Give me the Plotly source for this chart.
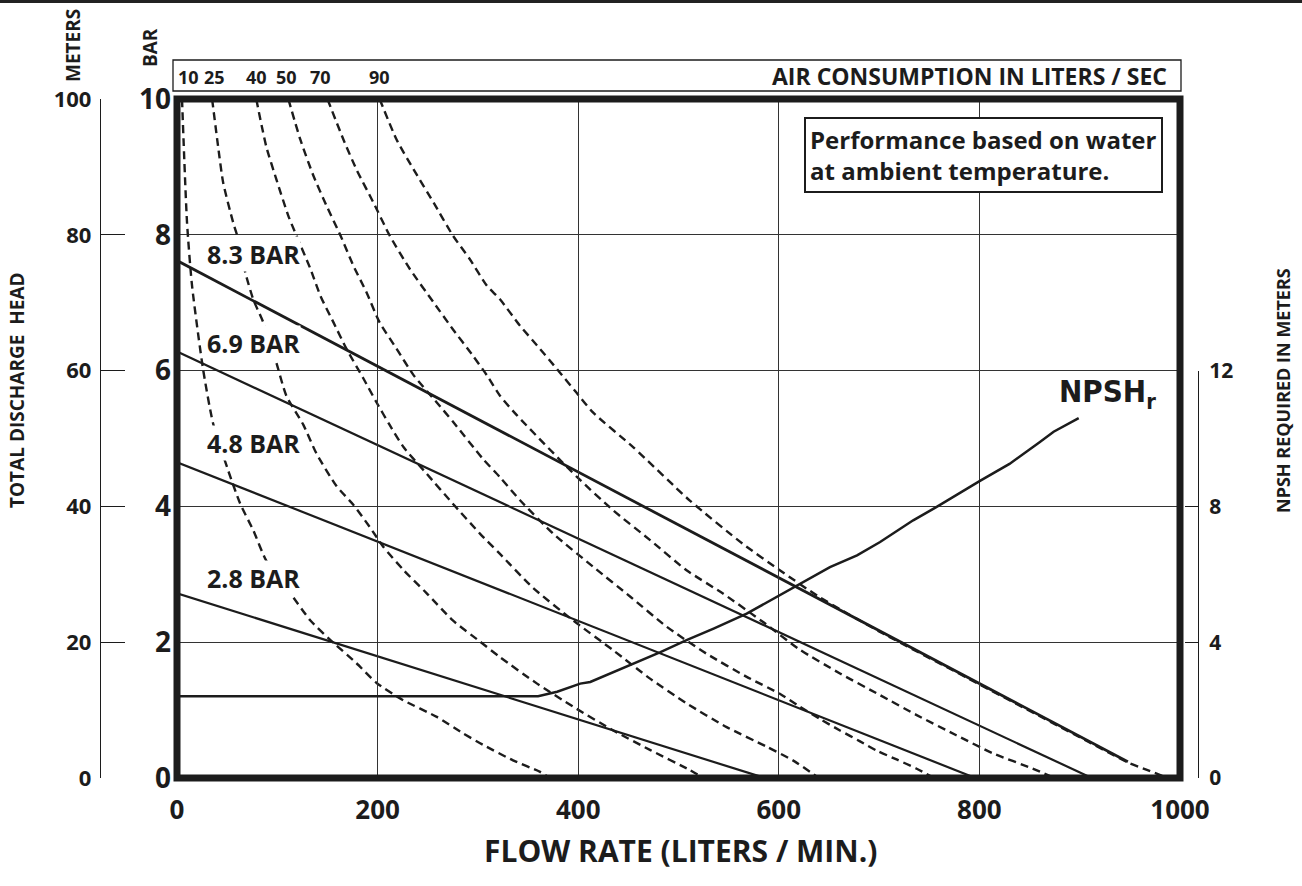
import plotly.graph_objects as go

# ---------------- DATA ----------------
# Flow rate axis (liters / min) and head axes
FLOW_TICKS = [0, 200, 400, 600, 800, 1000]
METER_TICKS = [0, 20, 40, 60, 80, 100]
BAR_TICKS = [0, 2, 4, 6, 8, 10]
NPSH_TICKS = [0, 4, 8, 12]

# Performance lines at air inlet pressure (flow l/min, head m)
PERF_LABELS = ["8.3 BAR", "6.9 BAR", "4.8 BAR", "2.8 BAR"]
PERF_83_X = [0, 948]
PERF_83_Y = [76.2, 2.4]
PERF_69_X = [0, 912]
PERF_69_Y = [62.8, 0]
PERF_48_X = [0, 796]
PERF_48_Y = [46.5, 0]
PERF_28_X = [0, 586]
PERF_28_Y = [27.2, 0]

# Air consumption curves (liters / sec)
AIR_LABELS = ["10", "25", "40", "50", "70", "90"]
AIR10_X = [5, 10, 15, 26, 36, 51, 63, 76, 89, 113, 133, 153, 179, 199, 225, 259, 285, 305, 335, 362, 372]
AIR10_Y = [100, 81.8, 72.5, 60.2, 52.2, 45.3, 40.4, 36.5, 32, 27.2, 23.2, 20.3, 16.9, 14, 11.5, 9, 6.6, 4.9, 2.6, 0.9, 0]
AIR25_X = [35, 41, 46, 56, 61, 68, 76, 86, 99, 109, 126, 139, 159, 176, 192, 206, 226, 249, 275, 302, 322, 359, 395, 435, 472, 511, 525]
AIR25_Y = [100, 93, 87.7, 81.8, 79.4, 74.5, 70.5, 67.1, 61.2, 56.3, 52, 47.8, 43, 40.2, 37, 34, 30.6, 27.2, 23.2, 20.1, 17.8, 13.9, 10.5, 7, 4.1, 1.2, 0]
AIR40_X = [79, 89, 99, 111, 119, 133, 143, 156, 169, 186, 199, 212, 226, 249, 275, 302, 322, 355, 395, 435, 472, 508, 548, 588, 614, 640]
AIR40_Y = [100, 93, 88.2, 82.8, 79.9, 75, 71, 67.1, 63.2, 58.8, 55.3, 52, 48.7, 44.8, 40.4, 36, 33, 28, 23.2, 18.8, 14.6, 11, 7.5, 4.6, 2.6, 0]
AIR50_X = [111, 123, 136, 149, 163, 176, 189, 202, 219, 236, 259, 275, 305, 322, 342, 375, 415, 452, 488, 528, 568, 601, 621, 641, 661, 681, 698, 718, 737, 755]
AIR50_Y = [100, 94, 88.7, 84.3, 79.9, 75.4, 71.5, 67.1, 63.2, 59.3, 55.3, 52.5, 47, 44.3, 40.9, 36, 31.1, 26.7, 22.3, 18.3, 14.9, 12.4, 10.5, 8.7, 7, 5.4, 4, 2.7, 1.4, 0]
AIR70_X = [150, 166, 179, 196, 212, 232, 256, 275, 295, 309, 322, 339, 399, 435, 472, 508, 544, 584, 621, 661, 701, 737, 777, 814, 853, 875]
AIR70_Y = [100, 94, 89.6, 84.7, 79.9, 75, 70, 66.1, 62.2, 59.3, 56.3, 53.4, 44.3, 39.4, 35, 30.6, 27.2, 23, 18.9, 15.4, 12.2, 9.3, 6.3, 3.6, 1.4, 0]
AIR90_X = [202, 219, 236, 256, 275, 292, 309, 322, 342, 359, 379, 398, 415, 455, 511, 564, 601, 641, 700, 800, 900, 948, 967, 988]
AIR90_Y = [100, 94, 89.6, 84.7, 79.9, 76.4, 72.5, 70.5, 66.6, 63.7, 60.2, 56.8, 53.8, 48.7, 40.9, 34.5, 30.6, 26.6, 21.6, 13.8, 6.0, 2.3, 1.2, 0]

# NPSH required (flow l/min, NPSH m)
NPSH_X = [0, 360, 379, 402, 412, 452, 482, 508, 535, 568, 601, 621, 651, 678, 701, 734, 757, 801, 830, 860, 874, 899]
NPSH_Y = [2.41, 2.41, 2.54, 2.78, 2.83, 3.32, 3.71, 4.06, 4.4, 4.84, 5.38, 5.73, 6.21, 6.56, 6.95, 7.59, 7.98, 8.76, 9.25, 9.89, 10.2, 10.6]

# ---------------- LAYOUT HELPERS ----------------
W, H = 1302, 886
PX_L, PX_R, PY_T, PY_B = 177, 1180, 99, 778


def fx(p):
    return p / W


def fy(p):
    return 1 - p / H


FONT = "Open Sans, Noto Sans, DejaVu Sans, sans-serif"
COND = "Liberation Sans Narrow, DejaVu Sans Condensed, Roboto Condensed, sans-serif"
INK = "#1c1c1c"
GRID = "#333333"

fig = go.Figure()

air_series = [(AIR10_X, AIR10_Y), (AIR25_X, AIR25_Y), (AIR40_X, AIR40_Y),
              (AIR50_X, AIR50_Y), (AIR70_X, AIR70_Y), (AIR90_X, AIR90_Y)]
for (xs, ys), lab in zip(air_series, AIR_LABELS):
    fig.add_trace(go.Scatter(x=xs, y=ys, mode="lines", name=lab + " l/s",
                             line=dict(color=INK, width=2.4, dash="8px,5px",
                                       shape="spline", smoothing=0.6),
                             xaxis="x", yaxis="y", hoverinfo="skip"))

perf_series = [(PERF_83_X, PERF_83_Y, 2.8), (PERF_69_X, PERF_69_Y, 2.2),
               (PERF_48_X, PERF_48_Y, 2.2), (PERF_28_X, PERF_28_Y, 2.2)]
for (xs, ys, w), lab in zip(perf_series, PERF_LABELS):
    fig.add_trace(go.Scatter(x=xs, y=ys, mode="lines", name=lab,
                             line=dict(color=INK, width=w),
                             xaxis="x", yaxis="y"))

fig.add_trace(go.Scatter(x=NPSH_X, y=NPSH_Y, mode="lines", name="NPSHr",
                         line=dict(color=INK, width=2.5),
                         xaxis="x", yaxis="y3"))

# invisible trace so the BAR scale axis is drawn
fig.add_trace(go.Scatter(x=[0], y=[0], mode="markers", marker=dict(opacity=0),
                         xaxis="x", yaxis="y2", hoverinfo="skip"))

tick_bold = dict(family=FONT, color=INK, weight="bold")

fig.update_layout(
    width=W, height=H, autosize=False,
    margin=dict(l=0, r=0, t=0, b=0, pad=0, autoexpand=False),
    paper_bgcolor="white", plot_bgcolor="rgba(0,0,0,0)",
    showlegend=False,
    xaxis=dict(domain=[fx(PX_L), fx(PX_R)], range=[0, 1000],
               tickvals=FLOW_TICKS, ticks="", showline=False, zeroline=False,
               showgrid=True, gridcolor=GRID, gridwidth=1.3,
               tickfont=dict(size=26, **tick_bold), ticklabelstandoff=14,
               anchor="y"),
    yaxis=dict(domain=[fy(PY_B), fy(PY_T)], range=[0, 100],
               anchor="free", position=fx(100), side="left",
               tickvals=METER_TICKS, ticks="inside", ticklen=24, tickwidth=1.3,
               tickcolor=INK, showline=True, linecolor=INK, linewidth=1.3,
               showgrid=True, gridcolor=GRID, gridwidth=1.3, zeroline=False,
               tickfont=dict(size=22, **tick_bold), ticklabelstandoff=4),
    yaxis2=dict(overlaying="y", range=[0, 10], anchor="free",
                position=fx(PX_L), side="left", tickvals=BAR_TICKS, ticks="",
                showline=False, showgrid=False, zeroline=False,
                tickfont=dict(size=28, **tick_bold), ticklabelstandoff=6),
    yaxis3=dict(domain=[fy(PY_B), fy(PY_B - 0.6 * (PY_B - PY_T))], range=[0, 12],
                anchor="free", position=fx(1198), side="right",
                tickvals=NPSH_TICKS, ticks="inside", ticklen=13, tickwidth=1.3,
                tickcolor=INK, showline=True, linecolor=INK, linewidth=1.3,
                showgrid=False, zeroline=False,
                tickfont=dict(size=21, **tick_bold), ticklabelstandoff=6),
)

shapes = [
    # plot frame
    dict(type="rect", xref="paper", yref="paper", x0=fx(PX_L), x1=fx(PX_R),
         y0=fy(PY_B), y1=fy(PY_T), line=dict(color=INK, width=7), layer="above"),
    # air consumption header box
    dict(type="rect", xref="paper", yref="paper", x0=fx(173), x1=fx(1181),
         y0=fy(91), y1=fy(60), line=dict(color=INK, width=1.3)),
    # top rule of the page
    dict(type="line", xref="paper", yref="paper", x0=0, x1=1, y0=1, y1=1,
         line=dict(color="#222", width=6)),
]
fig.update_layout(shapes=shapes)

ann = []
# performance line labels
PERF_LABEL_Y = [77.1, 64.1, 49.4, 29.4]
for lab, yv in zip(PERF_LABELS, PERF_LABEL_Y):
    ann.append(dict(text=lab, x=29, y=yv, xref="x", yref="y", xanchor="left",
                    yanchor="middle", showarrow=False, bgcolor="white",
                    borderpad=0, font=dict(size=25, **tick_bold)))
# air consumption labels in header
AIR_LABEL_X = [11, 37, 79, 109, 143, 202]
for lab, xv in zip(AIR_LABELS, AIR_LABEL_X):
    ann.append(dict(text=lab, x=xv, y=fy(77), xref="x", yref="paper",
                    xanchor="center", yanchor="middle", showarrow=False,
                    font=dict(size=18, **tick_bold)))
ann.append(dict(text="AIR CONSUMPTION IN LITERS / SEC", x=fx(1169), y=fy(76),
                xref="paper", yref="paper", xanchor="right", yanchor="middle",
                showarrow=False, font=dict(size=23, **tick_bold)))
ann.append(dict(text="Performance based on water<br>at ambient temperature.",
                x=fx(804), y=fy(117), xref="paper", yref="paper",
                xanchor="left", yanchor="top", align="left", showarrow=False,
                bgcolor="white", bordercolor=INK, borderwidth=2, borderpad=4,
                font=dict(size=24, **tick_bold)))
ann.append(dict(text="NPSH<sub>r</sub>", x=928, y=56.6, xref="x", yref="y",
                xanchor="center", yanchor="middle", showarrow=False,
                font=dict(size=31, family=COND, color=INK, weight="bold")))
# axis titles
ann.append(dict(text="FLOW RATE (LITERS / MIN.)", x=fx(680), y=fy(850),
                xref="paper", yref="paper", xanchor="center", yanchor="middle",
                showarrow=False, font=dict(size=30, **tick_bold)))
ann.append(dict(text="TOTAL DISCHARGE  HEAD", x=fx(17), y=fy(390),
                xref="paper", yref="paper", xanchor="center", yanchor="middle",
                textangle=-90, showarrow=False, font=dict(size=19, **tick_bold)))
ann.append(dict(text="NPSH REQUIRED IN METERS", x=fx(1283), y=fy(391),
                xref="paper", yref="paper", xanchor="center", yanchor="middle",
                textangle=-90, showarrow=False, font=dict(size=18, **tick_bold)))
ann.append(dict(text="METERS", x=fx(73), y=fy(46), xref="paper", yref="paper",
                xanchor="center", yanchor="middle", textangle=-90,
                showarrow=False, font=dict(size=19, **tick_bold)))
ann.append(dict(text="BAR", x=fx(150), y=fy(48), xref="paper", yref="paper",
                xanchor="center", yanchor="middle", textangle=-90,
                showarrow=False, font=dict(size=19, **tick_bold)))
fig.update_layout(annotations=ann)

fig.write_html("out.html", config={"displayModeBar": False},
               post_script="document.body.style.margin='0px';")
